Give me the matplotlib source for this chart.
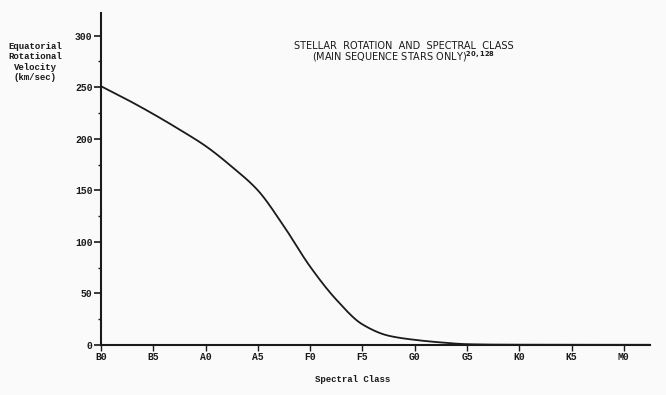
import matplotlib
matplotlib.use("Agg")
import matplotlib.pyplot as plt
import numpy as np
from matplotlib.ticker import MultipleLocator

# Data
spectral_labels = ["B0", "B5", "A0", "A5", "F0", "F5", "G0", "G5", "K0", "K5", "M0"]
class_pos = [0.0, 0.5, 1.0, 1.5, 2.0, 2.5, 3.0, 3.5, 4.0, 4.5, 5.0, 5.5, 6.0, 6.5, 7.0, 7.5, 8.0, 9.0, 10.0, 10.5]
velocity = [251, 238, 224, 209, 193, 173, 150, 115, 76, 44, 20, 9, 5, 2.5, 0.8, 0.4, 0.3, 0.2, 0.2, 0.2]
y_ticks = [0, 50, 100, 150, 200, 250, 300]


def pchip(x, y, xs):
    # monotone cubic used only to draw a smooth line through the read points
    x = np.asarray(x, float); y = np.asarray(y, float)
    h = np.diff(x); d = np.diff(y) / h
    m = np.zeros_like(y)
    for k in range(1, len(x) - 1):
        if d[k-1] * d[k] > 0:
            w1 = 2*h[k] + h[k-1]; w2 = h[k] + 2*h[k-1]
            m[k] = (w1 + w2) / (w1/d[k-1] + w2/d[k])
    m[0] = d[0]; m[-1] = d[-1]
    idx = np.clip(np.searchsorted(x, xs) - 1, 0, len(x) - 2)
    t = (xs - x[idx]) / h[idx]
    h00 = 2*t**3 - 3*t**2 + 1; h10 = t**3 - 2*t**2 + t
    h01 = -2*t**3 + 3*t**2; h11 = t**3 - t**2
    return h00*y[idx] + h10*h[idx]*m[idx] + h01*y[idx+1] + h11*h[idx]*m[idx+1]


ink = "#1a1a1a"
bg = "#fafafa"
mono = ["Liberation Mono", "DejaVu Sans Mono"]

fig = plt.figure(figsize=(6.66, 3.95), dpi=100, facecolor=bg)
ax = fig.add_axes([101/666, 1 - 345/395, (650-101)/666, (345-13)/395], facecolor=bg)

xs = np.linspace(class_pos[0], class_pos[-1], 600)
ax.plot(xs, pchip(class_pos, velocity, xs), color=ink, lw=1.3, solid_capstyle="round")

ax.set_xlim(0, 10.5)
ax.set_ylim(0, 322)
ax.set_xticks(range(len(spectral_labels)))
ax.set_xticklabels(spectral_labels, fontfamily=mono, fontweight="bold", fontsize=7, color=ink)
ax.set_yticks(y_ticks)
ax.set_yticklabels([str(v) for v in y_ticks], fontfamily=mono, fontweight="bold", fontsize=7, color=ink)
ax.yaxis.set_minor_locator(MultipleLocator(25))

ax.spines["top"].set_visible(False)
ax.spines["right"].set_visible(False)
ax.spines["left"].set_color(ink)
ax.spines["bottom"].set_color(ink)
ax.spines["left"].set_linewidth(1.5)
ax.spines["bottom"].set_linewidth(1.5)

ax.tick_params(axis="y", which="major", direction="out", length=5, width=1.2, pad=1, colors=ink)
ax.tick_params(axis="y", which="minor", direction="out", length=2.5, width=1, colors=ink)
ax.tick_params(axis="x", which="major", direction="out", length=4, width=1, pad=1, colors=ink)

fig.text(35/666, 1 - 62/395, "Equatorial\nRotational\nVelocity\n(km/sec)", ha="center", va="center",
         fontfamily=mono, fontweight="bold", fontsize=6.5, color=ink, linespacing=1.15)
fig.text(353/666, 1 - 380/395, "Spectral Class", ha="center", va="center",
         fontfamily=mono, fontweight="bold", fontsize=6.5, color=ink)

fig.text(404/666, 1 - 46/395, "STELLAR  ROTATION  AND  SPECTRAL  CLASS", ha="center", va="center",
         fontfamily=["Liberation Sans Narrow", "DejaVu Sans"], fontsize=7, color=ink)
fig.text(404/666, 1 - 57/395, r"(MAIN SEQUENCE STARS ONLY)$^{\mathbf{20,128}}$", ha="center", va="center",
         fontfamily=["Liberation Sans Narrow", "DejaVu Sans"], fontsize=7, color=ink)

fig.savefig("out.png", dpi=100, facecolor=bg)
